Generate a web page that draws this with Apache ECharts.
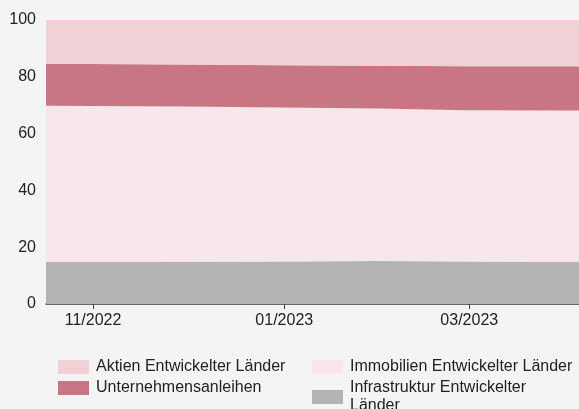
<!DOCTYPE html>
<html>
<head>
<meta charset="utf-8">
<script src="https://cdn.jsdelivr.net/npm/echarts@6/dist/echarts.min.js"></script>
<style>
  html, body { margin: 0; padding: 0; background: #f4f4f4; }
  #main { width: 579px; height: 409px; }
</style>
</head>
<body>
<div id="main"></div>
<script>
// Datenpunkte (Monatsenden + Rand)
var dates = ['2022-10-17', '2022-10-31', '2022-11-30', '2022-12-31', '2023-01-31', '2023-02-28', '2023-03-31', '2023-04-05'];
var infrastruktur = [14.8, 14.8, 14.9, 15.0, 15.1, 15.0, 14.8, 14.8];
var immobilien = [55.0, 54.9, 54.6, 54.2, 53.7, 53.2, 53.3, 53.3];
var unternehmensanleihen = [14.8, 14.8, 14.8, 14.9, 15.1, 15.5, 15.6, 15.6];
var aktien = [15.4, 15.5, 15.7, 15.9, 16.1, 16.3, 16.3, 16.3];
var tickDates = [new Date(2022, 10, 1).getTime(), new Date(2023, 0, 1).getTime(), new Date(2023, 2, 1).getTime()];

function pairs(vals) {
  return vals.map(function (v, i) { return [dates[i], v]; });
}

function area(name, vals, color) {
  return {
    name: name,
    type: 'line',
    stack: 'total',
    symbol: 'none',
    lineStyle: { width: 0 },
    areaStyle: { color: color, opacity: 1 },
    itemStyle: { color: color },
    data: pairs(vals)
  };
}

var chart = echarts.init(document.getElementById('main'));
var txt = { color: '#222', fontSize: 16, fontFamily: 'Liberation Sans, Arial, sans-serif' };

function legendCol(left, names) {
  return {
    orient: 'vertical',
    left: left,
    top: 358,
    height: 90,
    padding: 0,
    itemWidth: 31,
    itemHeight: 14,
    itemGap: 3,
    icon: 'rect',
    textStyle: Object.assign({ lineHeight: 18, padding: [0, 0, 0, 2] }, txt),
    formatter: function (name) {
      return name === 'Infrastruktur Entwickelter Länder' ? 'Infrastruktur Entwickelter\nLänder' : name;
    },
    data: names
  };
}

var option = {
  backgroundColor: '#f4f4f4',
  animation: false,
  grid: { left: 46, right: 0, top: 20, bottom: 105 },
  xAxis: {
    type: 'time',
    min: new Date(2022, 9, 17).getTime(),
    max: new Date(2023, 3, 5).getTime(),
    axisLine: { show: true, lineStyle: { color: '#404040', width: 1.5 } },
    axisTick: { show: true, customValues: tickDates, length: 5, lineStyle: { color: '#404040' } },
    splitLine: { show: false },
    axisLabel: Object.assign({
      customValues: tickDates,
      formatter: '{MM}/{yyyy}',
      margin: 9,
      hideOverlap: false
    }, txt)
  },
  yAxis: {
    type: 'value',
    min: 0,
    max: 100,
    interval: 20,
    axisLine: { show: false },
    axisTick: { show: false },
    splitLine: { show: true, lineStyle: { color: '#dcdcdc' } },
    axisLabel: Object.assign({ margin: 10 }, txt)
  },
  legend: [
    legendCol(58, ['Aktien Entwickelter Länder', 'Unternehmensanleihen']),
    legendCol(312, ['Immobilien Entwickelter Länder', 'Infrastruktur Entwickelter Länder'])
  ],
  series: [
    area('Infrastruktur Entwickelter Länder', infrastruktur, '#b3b3b3'),
    area('Immobilien Entwickelter Länder', immobilien, '#f7e6ea'),
    area('Unternehmensanleihen', unternehmensanleihen, '#c87683'),
    area('Aktien Entwickelter Länder', aktien, '#efd1d6')
  ]
};

chart.setOption(option);
</script>
</body>
</html>
